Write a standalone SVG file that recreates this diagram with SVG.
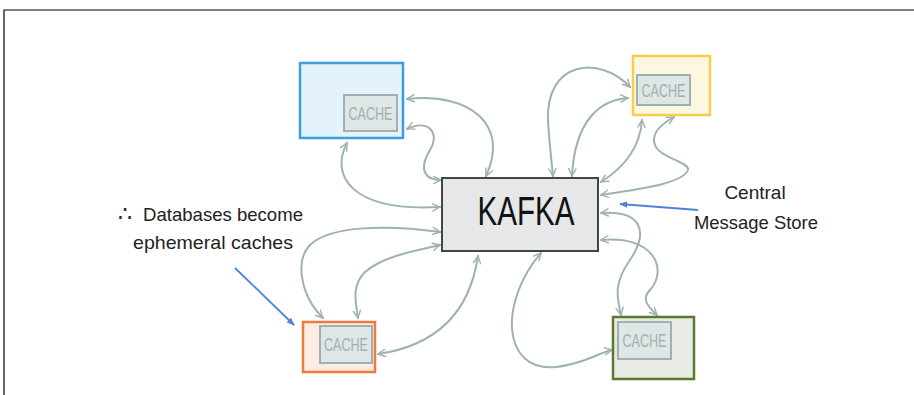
<svg xmlns="http://www.w3.org/2000/svg" width="914" height="395" viewBox="0 0 914 395">
<style>
.c{fill:none;stroke:#9fb2b2;stroke-width:2;stroke-linecap:round;marker-start:url(#ah);marker-end:url(#ah)}
.n{stroke-width:2.5}
.ic{fill:#dfe6e6;stroke:#9fb0b0;stroke-width:2}
.ct{font-family:"Liberation Sans",sans-serif;font-size:19px;fill:#9fb0b0;text-anchor:middle}
.lb{font-family:"Liberation Sans",sans-serif;font-size:19px;fill:#222}
.bl{fill:none;stroke:#4d84d6;stroke-width:1.8;marker-end:url(#bh)}
</style>
<defs>
<marker id="ah" viewBox="0 0 10 10" refX="9" refY="5" markerWidth="9" markerHeight="9" markerUnits="userSpaceOnUse" orient="auto-start-reverse">
<path d="M1,1 L9,5 L1,9" fill="none" stroke="#9fb2b2" stroke-width="1.6" stroke-linecap="round"/>
</marker>
<marker id="bh" viewBox="0 0 10 10" refX="9" refY="5" markerWidth="8" markerHeight="8" markerUnits="userSpaceOnUse" orient="auto">
<path d="M0,1 L10,5 L0,9 Z" fill="#4d84d6"/>
</marker>
</defs>
<rect width="914" height="395" fill="#ffffff"/>
<path d="M4,395 V10 H914" fill="none" stroke="#000" stroke-width="1.2"/>

<g id="connectors">
<path class="c" d="M407,99 C470,92 510,125 486,176"/>
<path class="c" d="M407,129 C430,118 440,135 430,150 C418,170 425,180 441,180"/>
<path class="c" d="M347,143 C330,175 350,212 440,207"/>
<path class="c" d="M630,87 C600,55 545,60 548,122 C550,150 552,165 553,176"/>
<path class="c" d="M628,98 C600,100 575,120 572,176"/>
<path class="c" d="M642,120 C640,150 620,170 601,182"/>
<path class="c" d="M674,117 C665,122 650,132 655,145 C660,158 690,162 688,170 C682,185 630,190 601,195"/>
<path class="c" d="M601,213 C640,210 650,230 630,260 C612,285 618,300 621,315"/>
<path class="c" d="M601,240 C655,235 668,270 650,290 C640,300 650,308 657,315"/>
<path class="c" d="M541,253 C500,300 500,372 556,367 C585,364 600,352 612,350"/>
<path class="c" d="M378,354 C440,345 470,310 478,256"/>
<path class="c" d="M358,318 C355,300 352,285 365,272 C385,255 420,250 440,245"/>
<path class="c" d="M323,318 C300,295 295,260 310,245 C330,225 390,225 440,232"/>
</g>

<g id="blue-db">
<rect class="n" x="300" y="63" width="103" height="75" fill="#e3f2fb" stroke="#3aa0dd"/>
<rect class="ic" x="344" y="95" width="53" height="36"/>
<text class="ct" x="370.5" y="120" textLength="44" lengthAdjust="spacingAndGlyphs">CACHE</text>
</g>

<g id="yellow-db">
<rect class="n" x="633" y="56" width="77" height="59" fill="#fdf7e2" stroke="#f4cf4a"/>
<rect class="ic" x="637" y="75" width="53" height="30"/>
<text class="ct" x="663.5" y="97" textLength="44" lengthAdjust="spacingAndGlyphs">CACHE</text>
</g>

<g id="kafka">
<rect x="442" y="178" width="156" height="73" fill="#e5e7e8" stroke="#444" stroke-width="2"/>
<text x="526" y="225" font-family="Liberation Sans,sans-serif" font-size="40" fill="#111" text-anchor="middle" textLength="97" lengthAdjust="spacingAndGlyphs">KAFKA</text>
</g>

<g id="orange-db">
<rect class="n" x="303" y="322" width="72" height="50" fill="#fcece3" stroke="#ee7a3c"/>
<rect class="ic" x="320" y="326" width="52" height="37"/>
<text class="ct" x="346" y="351" textLength="44" lengthAdjust="spacingAndGlyphs">CACHE</text>
</g>

<g id="green-db">
<rect class="n" x="613" y="317" width="81" height="62" fill="#e8ebe3" stroke="#5b7a30"/>
<rect class="ic" x="618" y="322" width="53" height="37"/>
<text class="ct" x="644.5" y="347" textLength="44" lengthAdjust="spacingAndGlyphs">CACHE</text>
</g>

<g id="note-left">
<text class="lb" x="118" y="221"><tspan font-size="22">∴</tspan><tspan x="143" textLength="160" lengthAdjust="spacingAndGlyphs">Databases become</tspan></text>
<text class="lb" x="133" y="249" textLength="160" lengthAdjust="spacingAndGlyphs">ephemeral caches</text>
<path class="bl" d="M235,268 L294,325"/>
</g>

<g id="note-right">
<text class="lb" x="755" y="199" text-anchor="middle">Central</text>
<text class="lb" x="756" y="229" text-anchor="middle" textLength="124" lengthAdjust="spacingAndGlyphs">Message Store</text>
<path class="bl" d="M698,210 L620,204"/>
</g>
</svg>
